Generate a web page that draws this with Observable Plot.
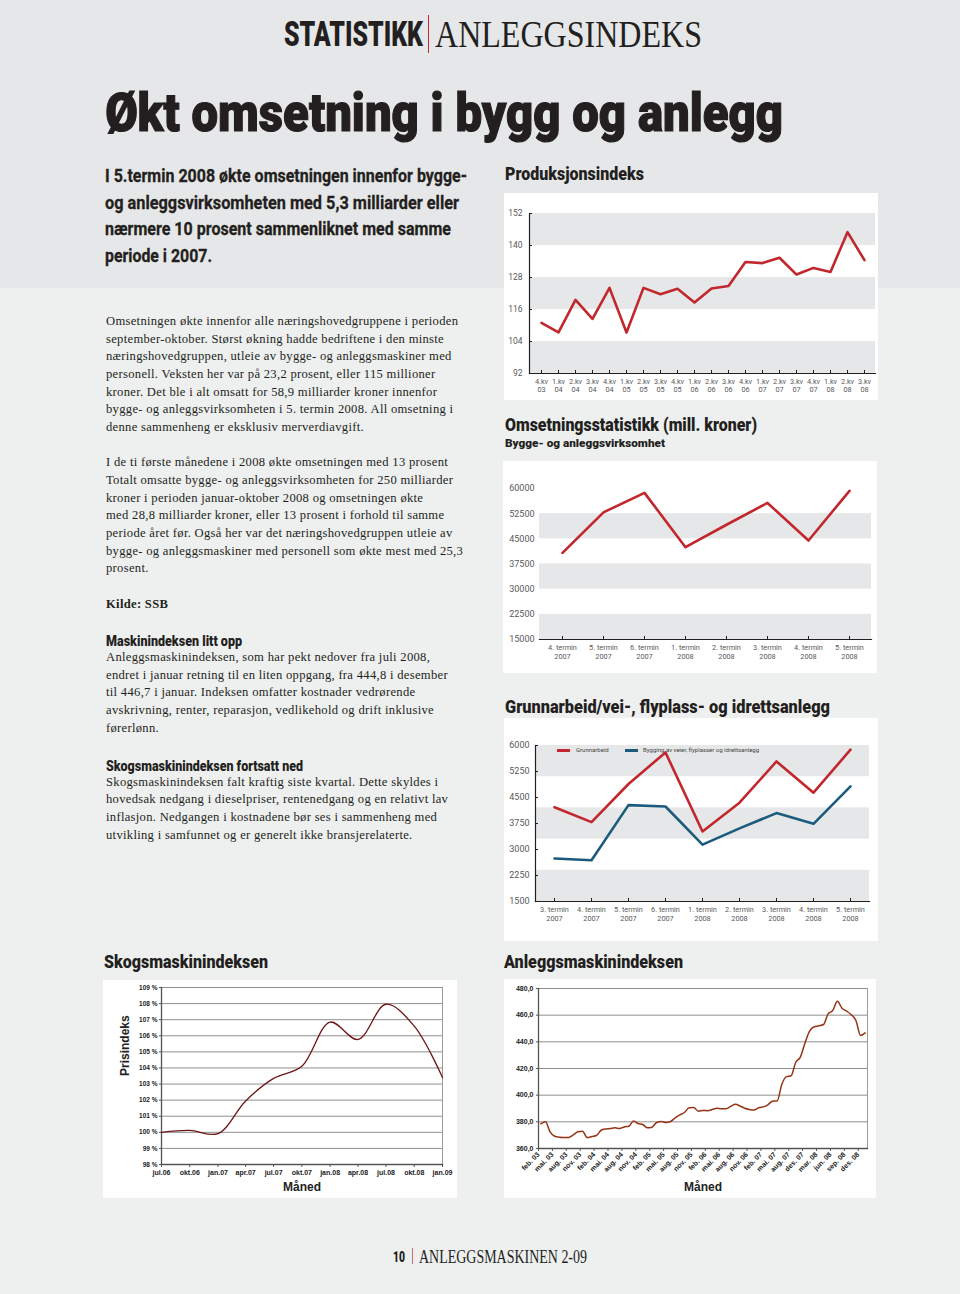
<!DOCTYPE html>
<html><head><meta charset="utf-8">
<script src="https://cdn.jsdelivr.net/npm/d3@7"></script>
<script src="https://cdn.jsdelivr.net/npm/@observablehq/plot@0.6"></script>
<style>
html,body{margin:0;padding:0;}
body{width:960px;height:1294px;position:relative;background:#eeefef;overflow:hidden;font-family:"Liberation Serif","Times New Roman",serif;color:#231f20;}
.abs{position:absolute;}
.topbg{left:0;top:0;width:960px;height:288px;background:#e6e7e8;}
.cond{position:absolute;font-family:Roboto,"Liberation Sans",sans-serif;font-weight:900;white-space:nowrap;display:inline-block;transform-origin:0 0;color:#231f20;}
.lead{font-weight:700;-webkit-text-stroke:0.3px #231f20;}
.serifh{position:absolute;font-family:"Liberation Serif",serif;white-space:nowrap;display:inline-block;transform-origin:0 0;color:#231f20;}
.body{position:absolute;font-size:12.6px;line-height:17.67px;letter-spacing:0.3px;white-space:nowrap;}
.chart{position:absolute;background:#fff;}
.chart svg{display:block;}
.leg{position:absolute;font-family:Roboto,"Liberation Sans",sans-serif;font-size:6px;color:#444;white-space:nowrap;line-height:6px;}
.sw{position:absolute;height:2.6px;width:13px;}
</style></head><body>
<div class="abs topbg"></div>

<div class="cond" data-w="139" style="left:283.5px;top:17.3px;font-size:35px;line-height:35px;">STATISTIKK</div>
<div class="abs" style="left:428px;top:15px;width:1.3px;height:38px;background:#c1272d;"></div>
<div class="serifh" data-w="267" style="left:435px;top:14.8px;font-size:38px;line-height:38px;">ANLEGGSINDEKS</div>

<div class="cond" data-w="678" style="left:105px;top:86.5px;font-size:53px;line-height:53px;-webkit-text-stroke:1.2px #231f20;">Økt omsetning i bygg og anlegg</div>

<div class="cond lead" data-w="362" style="left:105px;top:166px;font-size:19px;line-height:19px;">I 5.termin 2008 økte omsetningen innenfor bygge-</div>
<div class="cond lead" data-w="354" style="left:105px;top:192.5px;font-size:19px;line-height:19px;">og anleggsvirksomheten med 5,3 milliarder eller</div>
<div class="cond lead" data-w="346" style="left:105px;top:219px;font-size:19px;line-height:19px;">nærmere 10 prosent sammenliknet med samme</div>
<div class="cond lead" data-w="107" style="left:105px;top:245.5px;font-size:19px;line-height:19px;">periode i 2007.</div>

<div class="body" style="left:106px;top:313px;">Omsetningen økte innenfor alle næringshovedgruppene i perioden<br>september-oktober. Størst økning hadde bedriftene i den minste<br>næringshovedgruppen, utleie av bygge- og anleggsmaskiner med<br>personell. Veksten her var på 23,2 prosent, eller 115 millioner<br>kroner. Det ble i alt omsatt for 58,9 milliarder kroner innenfor<br>bygge- og anleggsvirksomheten i 5. termin 2008. All omsetning i<br>denne sammenheng er eksklusiv merverdiavgift.<br><br>I de ti første månedene i 2008 økte omsetningen med 13 prosent<br>Totalt omsatte bygge- og anleggsvirksomheten for 250 milliarder<br>kroner i perioden januar-oktober 2008 og omsetningen økte<br>med 28,8 milliarder kroner, eller 13 prosent i forhold til samme<br>periode året før. Også her var det næringshovedgruppen utleie av<br>bygge- og anleggsmaskiner med personell som økte mest med 25,3<br>prosent.<br><br><b>Kilde: SSB</b></div>

<div class="cond" data-w="136" style="left:106px;top:634.2px;font-size:14px;line-height:14px;">Maskinindeksen litt opp</div>
<div class="body" style="left:106px;top:649px;">Anleggsmaskinindeksen, som har pekt nedover fra juli 2008,<br>endret i januar retning til en liten oppgang, fra 444,8 i desember<br>til 446,7 i januar. Indeksen omfatter kostnader vedrørende<br>avskrivning, renter, reparasjon, vedlikehold og drift inklusive<br>førerlønn.</div>

<div class="cond" data-w="197" style="left:106px;top:758.9px;font-size:14px;line-height:14px;">Skogsmaskinindeksen fortsatt ned</div>
<div class="body" style="left:106px;top:773.7px;">Skogsmaskinindeksen falt kraftig siste kvartal. Dette skyldes i<br>hovedsak nedgang i dieselpriser, rentenedgang og en relativt lav<br>inflasjon. Nedgangen i kostnadene bør ses i sammenheng med<br>utvikling i samfunnet og er generelt ikke bransjerelaterte.</div>

<div class="cond" data-w="139" style="left:505px;top:166px;font-size:17.5px;line-height:17.5px;">Produksjonsindeks</div>
<div class="chart" id="c1" style="left:504px;top:193px;width:374px;height:207px;"></div>

<div class="cond" data-w="252" style="left:505px;top:417px;font-size:17.5px;line-height:17.5px;">Omsetningsstatistikk (mill. kroner)</div>
<div class="cond" data-w="160" style="left:505px;top:437.9px;font-size:11.7px;line-height:11.7px;">Bygge- og anleggsvirksomhet</div>
<div class="chart" id="c2" style="left:503px;top:461px;width:374px;height:212px;"></div>

<div class="cond" data-w="325" style="left:505px;top:698.6px;font-size:17.5px;line-height:17.5px;">Grunnarbeid/vei-, flyplass- og idrettsanlegg</div>
<div class="chart" id="c3" style="left:504px;top:718px;width:374px;height:223px;"></div>
<div class="sw" style="left:557px;top:749px;background:#c1272d;"></div>
<div class="leg" style="left:576px;top:747px;">Grunnarbeid</div>
<div class="sw" style="left:625px;top:749px;background:#1d5b7e;"></div>
<div class="leg" style="left:643px;top:747px;">Bygging av veier, flyplasser og idrettsanlegg</div>

<div class="cond" data-w="164" style="left:104px;top:953.6px;font-size:17.5px;line-height:17.5px;">Skogsmaskinindeksen</div>
<div class="chart" id="c4" style="left:103px;top:980px;width:354px;height:218px;"></div>

<div class="cond" data-w="179" style="left:504px;top:954.3px;font-size:17.5px;line-height:17.5px;">Anleggsmaskinindeksen</div>
<div class="chart" id="c5" style="left:504px;top:979px;width:372px;height:219px;"></div>

<div class="cond" data-w="12" style="left:393px;top:1249.7px;font-size:15.5px;line-height:15.5px;">10</div>
<div class="abs" style="left:412px;top:1248px;width:1.3px;height:16px;background:#c76b7a;"></div>
<div class="serifh" data-w="168" style="left:419px;top:1247.6px;font-size:18px;line-height:18px;">ANLEGGSMASKINEN 2-09</div>

<script>
// ---- Data ----
const prodQuarters = ["4.kv 03","1.kv 04","2.kv 04","3.kv 04","4.kv 04","1.kv 05","2.kv 05","3.kv 05","4.kv 05","1.kv 06","2.kv 06","3.kv 06","4.kv 06","1.kv 07","2.kv 07","3.kv 07","4.kv 07","1.kv 08","2.kv 08","3.kv 08"];
const prodValues = [111.0,107.4,119.6,112.5,124.1,107.4,124.1,121.7,123.8,118.6,123.9,124.8,133.8,133.4,135.4,129.1,131.6,130.1,145.0,134.5];
const prodTicks = [92,104,116,128,140,152];
const prodBands = [[140,152],[116,128],[92,104]];

const omsTerms = ["4. termin 2007","5. termin 2007","6. termin 2007","1. termin 2008","2. termin 2008","3. termin 2008","4. termin 2008","5. termin 2008"];
const omsValues = [40800,52900,58700,42500,49200,55700,44500,59300];
const omsTicks = [15000,22500,30000,37500,45000,52500,60000];
const omsBands = [[45000,52500],[30000,37500],[15000,22500]];

const grunnTerms = ["3. termin 2007","4. termin 2007","5. termin 2007","6. termin 2007","1. termin 2008","2. termin 2008","3. termin 2008","4. termin 2008","5. termin 2008"];
const grunnArbeid = [4220,3790,4890,5800,3520,4350,5540,4640,5880];
const grunnVeier = [2740,2690,4280,4240,3140,3610,4050,3740,4820];
const grunnTicks = [1500,2250,3000,3750,4500,5250,6000];
const grunnBands = [[5100,6000],[3300,4200],[1500,2400]];

const skogMonths = ["2006-07","2006-10","2007-01","2007-04","2007-07","2007-10","2008-01","2008-04","2008-07","2008-10","2009-01"];
const skogLabels = ["jul.06","okt.06","jan.07","apr.07","jul.07","okt.07","jan.08","apr.08","jul.08","okt.08","jan.09"];
const skogValues = [100.0,100.12,99.92,101.95,103.35,104.1,106.85,105.77,107.96,106.6,103.4];
const skogTicks = [98,99,100,101,102,103,104,105,106,107,108,109];

const anleggLabels = ["feb. 03","mai. 03","aug. 03","nov. 03","feb. 04","mai. 04","aug. 04","nov. 04","feb. 05","mai. 05","aug. 05","nov. 05","feb. 06","mai. 06","aug. 06","nov. 06","feb. 07","mai. 07","aug. 07","des. 07","mar. 08","jun. 08","sep. 08","des. 08"];
const anleggValues = [378.5,380.0,372.5,369.2,368.5,368.3,368.2,370.2,372.5,373.0,368.2,369.0,369.7,373.7,374.7,375.0,375.5,375.0,376.2,376.7,380.7,378.7,378.0,375.5,376.0,379.5,380.2,379.5,380.2,383.0,385.2,387.0,390.5,390.7,388.0,388.5,388.4,389.2,390.1,389.8,389.9,391.7,393.1,391.9,390.2,389.3,388.9,390.5,391.2,392.8,395.5,395.7,408.0,413.9,414.5,424.5,428.5,439.0,448.0,451.3,452.0,453.0,461.0,463.5,470.4,465.2,463.0,460.3,456.0,444.8,446.7];
const anleggTicks = [360,380,400,420,440,460,480];

// ---- Helpers ----
const twoLine = s => s.replace(/ (\S+)$/, "\n$1");
const plain = d => String(d);
const ink = "#231f20";
const styleA = {background:"#fff", fontFamily:"Roboto, 'Liberation Sans', sans-serif", fontSize:"8px", color:"#58595b", overflow:"visible"};
const styleB = {background:"#fff", fontFamily:"'Liberation Sans', Arial, sans-serif", fontSize:"7px", fontWeight:"bold", color:"#222", overflow:"visible"};
const bandFill = "#e6e7e8";

// ---- Chart 1: Produksjonsindeks ----
document.getElementById("c1").append(Plot.plot({
  width:374, height:207, marginLeft:25, marginRight:3, marginTop:20, marginBottom:27,
  style: styleA,
  x:{type:"point", domain:prodQuarters, padding:0.5},
  y:{domain:[prodTicks[0], prodTicks[prodTicks.length-1]]},
  marks:[
    Plot.rect(prodBands, {y1:d=>d[0], y2:d=>d[1], fill:bandFill}),
    Plot.frame({anchor:"left", stroke:ink, strokeWidth:1.2}),
    Plot.frame({anchor:"bottom", stroke:ink, strokeWidth:1.2}),
    Plot.axisY({ticks:prodTicks, tickSize:-3, tickPadding:10, tickFormat:plain, stroke:ink, label:null, fontSize:8.5, letterSpacing:"0.4px"}),
    Plot.axisX({tickSize:-3, tickPadding:8, tickFormat:twoLine, label:null, stroke:ink, fontSize:7.3, lineHeight:1.1}),
    Plot.line(prodValues, {x:(d,i)=>prodQuarters[i], y:d=>d, stroke:"#c1272d", strokeWidth:2.6})
  ]
}));

// ---- Chart 2: Omsetningsstatistikk ----
document.getElementById("c2").append(Plot.plot({
  width:374, height:212, marginLeft:36, marginRight:6, marginTop:27, marginBottom:34,
  style: styleA,
  x:{type:"point", domain:omsTerms, padding:0.5},
  y:{domain:[omsTicks[0], omsTicks[omsTicks.length-1]]},
  marks:[
    Plot.rect(omsBands, {y1:d=>d[0], y2:d=>d[1], fill:bandFill}),
    Plot.frame({anchor:"bottom", stroke:ink, strokeWidth:1.2}),
    Plot.axisY({ticks:omsTicks, tickSize:0, tickPadding:5, tickFormat:plain, label:null, fontSize:9, letterSpacing:"0.4px"}),
    Plot.axisX({tickSize:-3, tickPadding:8, tickFormat:twoLine, label:null, stroke:ink, fontSize:7.3, lineHeight:1.15}),
    Plot.line(omsValues, {x:(d,i)=>omsTerms[i], y:d=>d, stroke:"#c1272d", strokeWidth:2.6})
  ]
}));

// ---- Chart 3: Grunnarbeid ----
document.getElementById("c3").append(Plot.plot({
  width:374, height:223, marginLeft:31, marginRight:9, marginTop:27, marginBottom:40,
  style: styleA,
  x:{type:"point", domain:grunnTerms, padding:0.5},
  y:{domain:[grunnTicks[0], grunnTicks[grunnTicks.length-1]]},
  marks:[
    Plot.rect(grunnBands, {y1:d=>d[0], y2:d=>d[1], fill:bandFill}),
    Plot.frame({anchor:"left", stroke:ink, strokeWidth:1.2}),
    Plot.frame({anchor:"bottom", stroke:ink, strokeWidth:1.2}),
    Plot.axisY({ticks:grunnTicks, tickSize:-3, tickPadding:9, tickFormat:plain, stroke:ink, label:null, fontSize:9, letterSpacing:"0.4px"}),
    Plot.axisX({tickSize:-3, tickPadding:8, tickFormat:twoLine, label:null, stroke:ink, fontSize:7.3, lineHeight:1.15}),
    Plot.line(grunnVeier, {x:(d,i)=>grunnTerms[i], y:d=>d, stroke:"#1d5b7e", strokeWidth:2.6}),
    Plot.line(grunnArbeid, {x:(d,i)=>grunnTerms[i], y:d=>d, stroke:"#c1272d", strokeWidth:2.6})
  ]
}));

// ---- Chart 4: Skogsmaskinindeksen ----
const parseM = d3.utcParse("%Y-%m");
const skogDates = skogMonths.map(parseM);
const skogLabelOf = new Map(skogDates.map((d,i)=>[+d, skogLabels[i]]));
document.getElementById("c4").append(Plot.plot({
  width:354, height:218, marginLeft:58, marginRight:15, marginTop:7, marginBottom:34,
  style: styleB,
  x:{type:"utc", domain:[skogDates[0], skogDates[skogDates.length-1]]},
  y:{domain:[skogTicks[0], skogTicks[skogTicks.length-1]]},
  marks:[
    Plot.gridY({ticks:skogTicks, stroke:"#8f8f8f", strokeOpacity:1, strokeWidth:1}),
    Plot.frame({anchor:"right", stroke:"#9a9a9a", strokeWidth:1}),
    Plot.frame({anchor:"left", stroke:"#555", strokeWidth:1.3}),
    Plot.frame({anchor:"bottom", stroke:"#555", strokeWidth:1.3}),
    Plot.axisY({ticks:skogTicks, tickSize:2, tickPadding:2, tickFormat:d=>d+" %", label:null, stroke:"#555", fontSize:6.5}),
    Plot.axisX({ticks:skogDates, tickSize:3, tickPadding:3, tickFormat:d=>skogLabelOf.get(+d), label:null, stroke:"#555", fontSize:7}),
    Plot.text(["Måned"], {text:d=>d, frameAnchor:"bottom", dy:26, fontSize:12, fontWeight:"bold", fill:"#222"}),
    Plot.text(["Prisindeks"], {text:d=>d, frameAnchor:"left", dx:-36, rotate:-90, fontSize:12, fontWeight:"bold", fill:"#222"}),
    Plot.line(skogValues, {x:(d,i)=>skogDates[i], y:d=>d, curve:"catmull-rom", stroke:"#6d1516", strokeWidth:1.3})
  ]
}));

// ---- Chart 5: Anleggsmaskinindeksen ----
const anleggTickPos = anleggLabels.map((_,k)=>k*3);
document.getElementById("c5").append(Plot.plot({
  width:372, height:219, marginLeft:34, marginRight:9, marginTop:9, marginBottom:50,
  style: styleB,
  x:{type:"linear", domain:[0, anleggValues.length]},
  y:{domain:[anleggTicks[0], anleggTicks[anleggTicks.length-1]]},
  marks:[
    Plot.gridY({ticks:anleggTicks, stroke:"#8f8f8f", strokeOpacity:1, strokeWidth:1}),
    Plot.frame({anchor:"right", stroke:"#9a9a9a", strokeWidth:1}),
    Plot.frame({anchor:"left", stroke:"#555", strokeWidth:1.3}),
    Plot.frame({anchor:"bottom", stroke:"#555", strokeWidth:1.3}),
    Plot.axisY({ticks:anleggTicks, tickSize:2, tickPadding:3, tickFormat:d=>d.toFixed(1).replace(".", ","), label:null, stroke:"#555", fontSize:7}),
    Plot.axisX({ticks:anleggTickPos, tickSize:3, tickPadding:2, tickRotate:-45, tickFormat:v=>anleggLabels[v/3], label:null, stroke:"#555", fontSize:7}),
    Plot.text(["Måned"], {text:d=>d, frameAnchor:"bottom", dy:42, fontSize:12, fontWeight:"bold", fill:"#222"}),
    Plot.line(anleggValues, {x:(d,i)=>i+0.5, y:d=>d, curve:"monotone-x", stroke:"#953415", strokeWidth:1.5})
  ]
}));

// ---- Fit condensed headings to their widths ----
document.querySelectorAll("[data-w]").forEach(el => {
  const w = el.getBoundingClientRect().width;
  if (w > 0) el.style.transform = `scaleX(${(+el.dataset.w)/w})`;
});
</script>
</body></html>
